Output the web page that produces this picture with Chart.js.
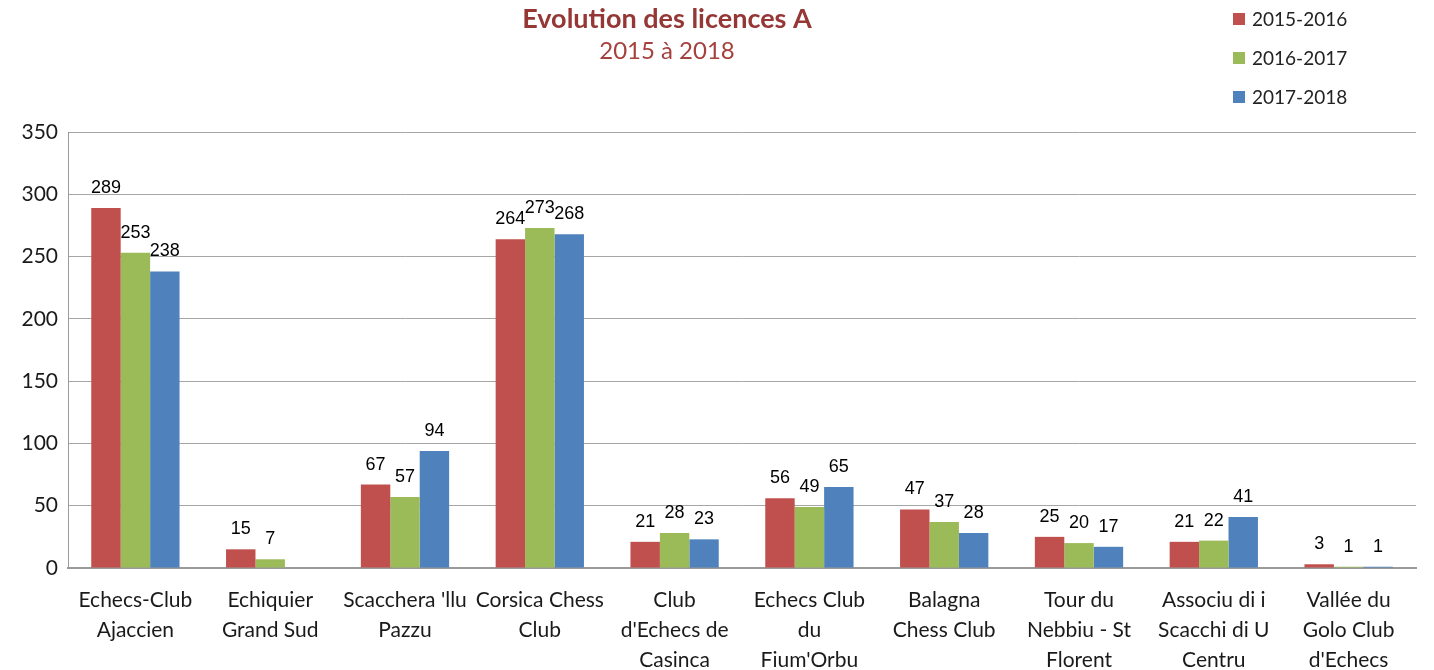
<!DOCTYPE html>
<html>
<head>
<meta charset="utf-8">
<title>Evolution des licences A</title>
<script src="https://cdn.jsdelivr.net/npm/chart.js@4"></script>
<style>
  body { margin: 0; background: #fff; }
  canvas { display: block; }
</style>
</head>
<body>
<canvas id="licenceChart" width="1434" height="670"></canvas>
<script>
const clubs = [
    ['Echecs-Club', 'Ajaccien'],
    ['Echiquier', 'Grand Sud'],
    ["Scacchera 'llu", 'Pazzu'],
    ['Corsica Chess', 'Club'],
    ['Club', "d'Echecs de", 'Casinca'],
    ['Echecs Club', 'du', "Fium'Orbu"],
    ['Balagna', 'Chess Club'],
    ['Tour du', 'Nebbiu - St', 'Florent'],
    ['Associu di i', 'Scacchi di U', 'Centru'],
    ['Vallée du', 'Golo Club', "d'Echecs"]
];
const seasons = ['2015-2016', '2016-2017', '2017-2018'];
const licences1516 = [289, 15, 67, 264, 21, 56, 47, 25, 21, 3];
const licences1617 = [253, 7, 57, 273, 28, 49, 37, 20, 22, 1];
const licences1718 = [238, null, 94, 268, 23, 65, 28, 17, 41, 1];
const yTicks = [0, 50, 100, 150, 200, 250, 300, 350];

const seasonColors = ['#C0504D', '#9BBB59', '#4F81BD'];

// title, subtitle, legend and value labels drawn by hand
const decorations = {
    id: 'decorations',
    afterDatasetsDraw(chart) {
        const ctx = chart.ctx;
        ctx.save();

        // value labels above bars
        ctx.font = '18px "Liberation Sans", Arial, sans-serif';
        ctx.fillStyle = '#000';
        ctx.textAlign = 'center';
        ctx.textBaseline = 'bottom';
        chart.data.datasets.forEach((ds, i) => {
            const meta = chart.getDatasetMeta(i);
            meta.data.forEach((bar, j) => {
                const v = ds.data[j];
                if (v === null || v === undefined) return;
                ctx.fillText(String(v), bar.x, bar.y - 11);
            });
        });

        // title
        ctx.fillStyle = '#953735';
        ctx.textBaseline = 'middle';
        ctx.font = 'bold 27px Lato, sans-serif';
        ctx.fillText('Evolution des licences A', 667, 19);
        ctx.fillStyle = '#A5403D';
        ctx.font = '24px Lato, sans-serif';
        ctx.fillText('2015 à 2018', 667, 51);

        // legend
        ctx.textAlign = 'left';
        ctx.font = '19px Lato, sans-serif';
        chart.data.datasets.forEach((ds, i) => {
            const y = 19 + i * 39;
            ctx.fillStyle = ds.backgroundColor;
            ctx.fillRect(1233, y - 6, 12, 12);
            ctx.fillStyle = '#222';
            ctx.fillText(ds.label, 1252, y + 1);
        });
        ctx.restore();
    }
};

const ctx = document.getElementById('licenceChart').getContext('2d');
const licenceChart = new Chart(ctx, {
    type: 'bar',
    data: {
        labels: clubs,
        datasets: [
            { label: seasons[0], data: licences1516, backgroundColor: seasonColors[0] },
            { label: seasons[1], data: licences1617, backgroundColor: seasonColors[1] },
            { label: seasons[2], data: licences1718, backgroundColor: seasonColors[2] }
        ]
    },
    options: {
        responsive: false,
        animation: false,
        layout: { padding: { top: 132, right: 18, left: 0, bottom: 0 } },
        datasets: {
            bar: { categoryPercentage: 0.655, barPercentage: 1.0 }
        },
        plugins: {
            legend: { display: false },
            title: { display: false },
            tooltip: { enabled: false }
        },
        scales: {
            x: {
                grid: { display: false, drawTicks: false },
                border: { color: '#9a9a9a', width: 2 },
                ticks: {
                    color: '#1a1a1a',
                    font: { family: 'Lato', size: 21, lineHeight: 1.43 },
                    padding: 17,
                    maxRotation: 0,
                    autoSkip: false
                },
                afterFit(scale) { scale.height = 102; }
            },
            y: {
                min: 0,
                max: 350,
                afterBuildTicks(scale) {
                    scale.ticks = yTicks.map(v => ({ value: v }));
                },
                grid: { color: '#a6a6a6', lineWidth: 1, drawTicks: false },
                border: { color: '#9a9a9a', width: 1 },
                ticks: {
                    color: '#1a1a1a',
                    font: { family: 'Lato', size: 21 },
                    padding: 10
                },
                afterFit(scale) { scale.width = 68; }
            }
        }
    },
    plugins: [decorations]
});
</script>
</body>
</html>
